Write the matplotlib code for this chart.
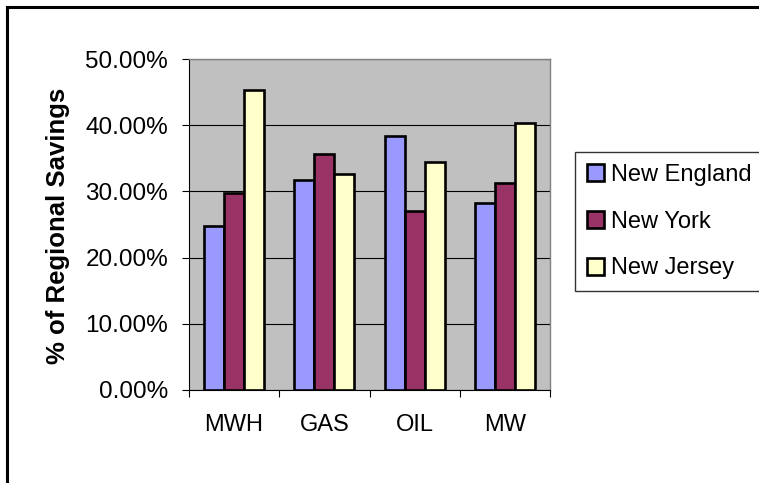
import numpy as np
import matplotlib.pyplot as plt
from matplotlib.lines import Line2D
from matplotlib.ticker import FuncFormatter

plt.rcParams['font.family'] = ['Liberation Sans', 'DejaVu Sans']

# data
categories = ["MWH", "GAS", "OIL", "MW"]
series_names = ["New England", "New York", "New Jersey"]
new_england = [24.7, 31.7, 38.4, 28.2]
new_york = [29.8, 35.6, 27.1, 31.3]
new_jersey = [45.3, 32.6, 34.5, 40.3]
colors = ["#9999FF", "#993366", "#FFFFCC"]

fig = plt.figure(figsize=(7.59, 4.83), dpi=100)
ax = fig.add_axes([189 / 759, 1 - 390 / 483, 361 / 759, 331 / 483])
ax.set_facecolor("#C0C0C0")

x = np.arange(len(categories))
w = 0.222
for i, (vals, name) in enumerate(zip([new_england, new_york, new_jersey], series_names)):
    ax.bar(x + (i - 1) * w, vals, w, color=colors[i], edgecolor="black",
           linewidth=1.9, label=name, zorder=3)

ax.set_xlim(-0.5, 3.5)
ax.set_ylim(0, 50)
ax.set_yticks(np.arange(0, 51, 10))
ax.yaxis.set_major_formatter(FuncFormatter(lambda v, p: f"{v:.2f}%"))
ax.grid(axis="y", color="black", linewidth=0.8, zorder=1)

ax.set_xticks(x)
ax.set_xticklabels(categories)
ax.set_xticks(np.arange(-0.5, 4, 1), minor=True)
ax.tick_params(axis="x", which="major", length=0, pad=17, labelsize=17)
ax.tick_params(axis="x", which="minor", length=5, width=0.8, direction="out")
ax.tick_params(axis="y", length=5, width=0.8, direction="out", labelsize=17.5, pad=10)

for s in ["top", "right"]:
    ax.spines[s].set_color("#808080")
    ax.spines[s].set_linewidth(1)
for s in ["left", "bottom"]:
    ax.spines[s].set_color("black")
    ax.spines[s].set_linewidth(0.8)

fig.text(58 / 759, 1 - 226 / 483, "% of Regional Savings", rotation=90,
         ha="center", va="center", fontsize=18.5, fontweight="bold")

leg = fig.legend(loc="upper left", bbox_to_anchor=(575 / 759, 1 - 152 / 483),
                 fontsize=17, frameon=True, fancybox=False, edgecolor="black",
                 handlelength=0.72, handleheight=0.72, handletextpad=0.3,
                 labelspacing=1.05, borderpad=0.5, borderaxespad=0)
leg.get_frame().set_linewidth(1)

# outer chart border (only top and left edges are visible)
fig.add_artist(Line2D([7 / 759, 7 / 759], [0, 1 - 7 / 483], color="black", linewidth=2.2,
                      transform=fig.transFigure))
fig.add_artist(Line2D([7 / 759, 1], [1 - 7 / 483, 1 - 7 / 483], color="black", linewidth=2.2,
                      transform=fig.transFigure))

fig.savefig("out.png", dpi=100)
